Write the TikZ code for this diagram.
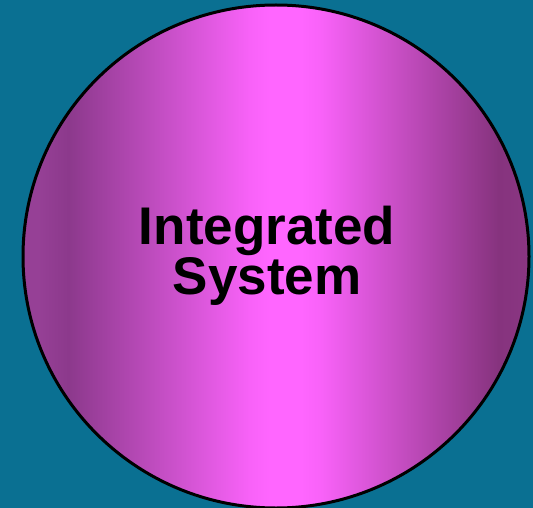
\documentclass[tikz,border=0pt]{standalone}
\usepackage{fontspec}
\setmainfont{Liberation Sans}
\definecolor{bgteal}{RGB}{10,112,146}
\definecolor{edgeL}{RGB}{150,64,150}
\definecolor{darkL}{RGB}{140,57,140}
\definecolor{brightA}{RGB}{248,98,248}
\definecolor{brightpink}{RGB}{255,102,255}
\definecolor{darkR}{RGB}{134,51,126}
\definecolor{edgeR}{RGB}{138,54,130}
\pgfdeclarehorizontalshading{discshade}{100bp}{%
  color(0bp)=(edgeL); color(25bp)=(edgeL); color(26.5bp)=(edgeL);
  color(29.5bp)=(darkL); color(47.4bp)=(brightA); color(49.5bp)=(brightpink);
  color(52.5bp)=(brightpink); color(54.5bp)=(brightA); color(72bp)=(darkR);
  color(75bp)=(edgeR); color(100bp)=(edgeR)}
\begin{document}
\begin{tikzpicture}[x=1pt,y=-1pt,
  label text/.style={font=\fontsize{53}{48}\selectfont\bfseries, align=center, text=black, inner sep=0pt}]
\useasboundingbox (0,0) rectangle (533,508);
\fill[bgteal] (0,0) rectangle (533,508);
\begin{scope}
\clip (276,256.5) ellipse [x radius=253, y radius=251.5];
\shade[shading=discshade] (23,0) rectangle (529,510);
\end{scope}
\draw[line width=3pt, black] (276,256.5) ellipse [x radius=253, y radius=251.5];
\node[label text, anchor=base] (title) at (267,294) {Integrated\\System};
\end{tikzpicture}
\end{document}
